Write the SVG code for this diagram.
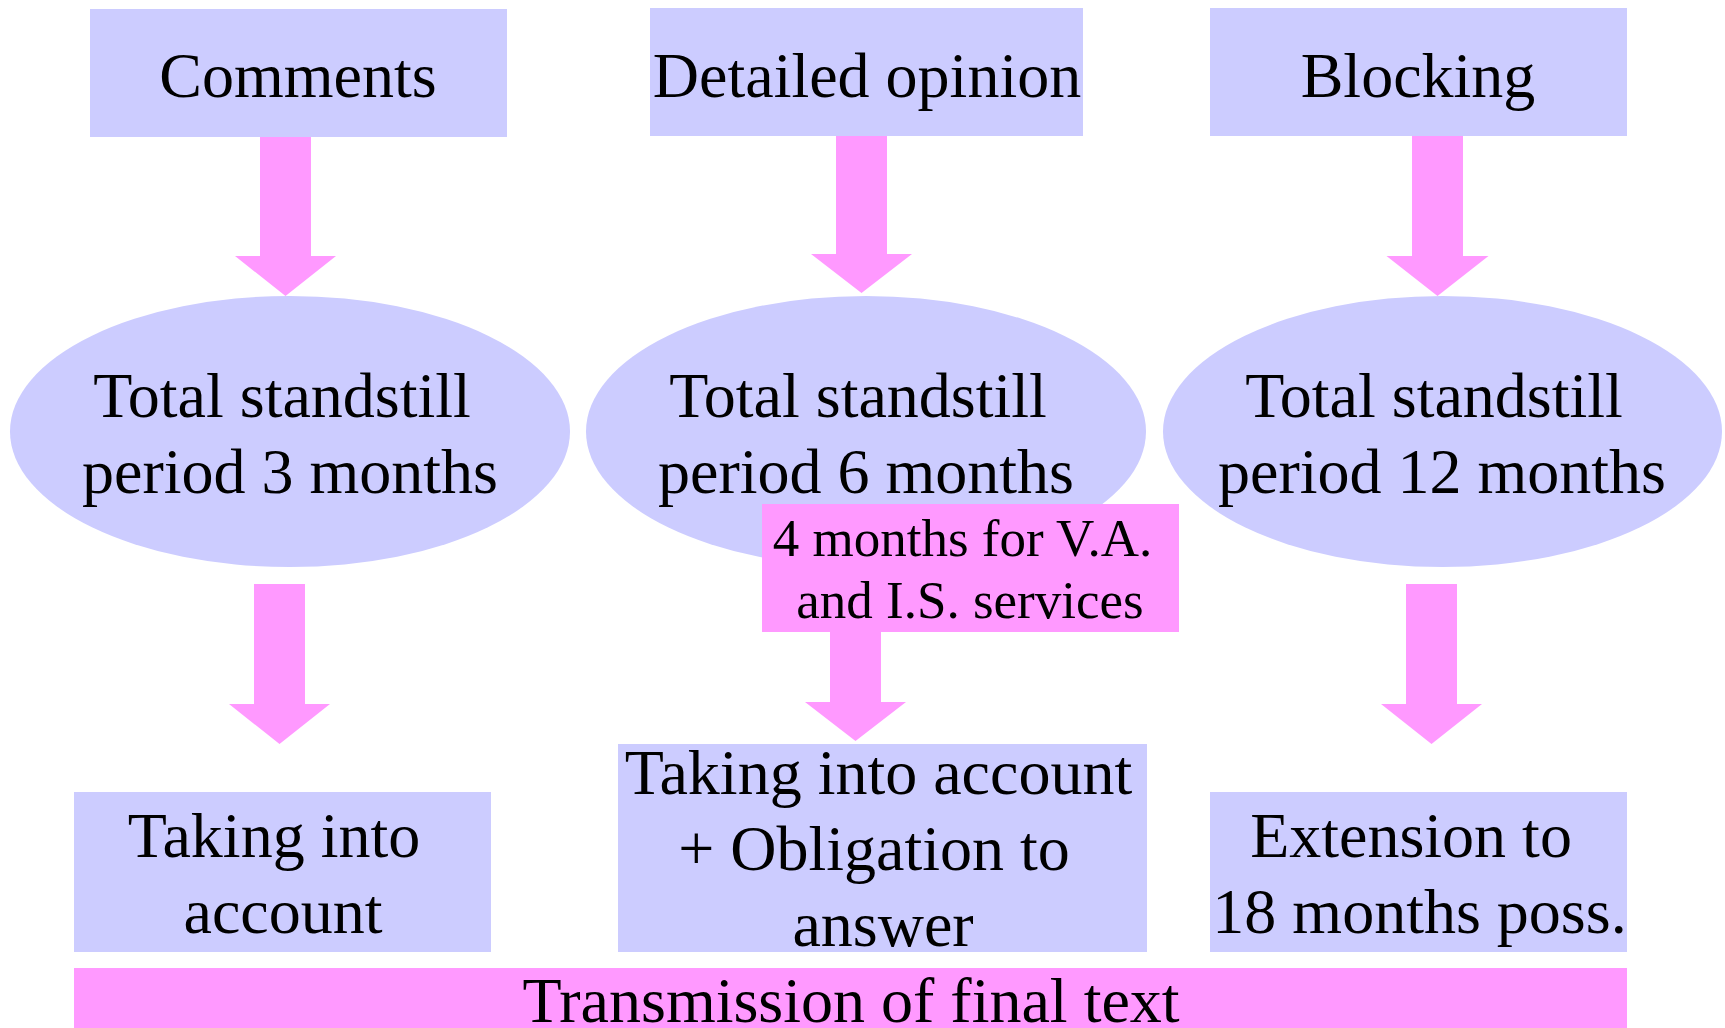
<svg xmlns="http://www.w3.org/2000/svg" width="1725" height="1028" viewBox="0 0 1725 1028">
<style>
.lav{fill:#CCCCFF}
.pink{fill:#FF99FF}
text{font-family:"Liberation Serif","Times New Roman",serif;font-size:64px;fill:#000;text-anchor:middle}
.sm{font-size:53px}
</style>
<rect width="1725" height="1028" fill="#FFFFFF"/>
<g id="connectors" class="pink">
<polygon points="260,137 311,137 311,256 336,256 285.5,296 235,256 260,256"/>
<polygon points="836,136 887,136 887,254 912,254 861.5,293 811,254 836,254"/>
<polygon points="1412,136 1463,136 1463,256 1488.5,256 1437.5,296 1386.5,256 1412,256"/>
<polygon points="254,584 305,584 305,704 330,704 279.5,744 229,704 254,704"/>
<polygon points="830,632 881,632 881,702 906,702 855.5,741 805,702 830,702"/>
<polygon points="1406,584 1457,584 1457,704 1482,704 1431.5,744 1381,704 1406,704"/>
</g>
<g id="comments">
<rect class="lav" x="90" y="9" width="417" height="128"/>
<text x="298" y="97">Comments</text>
</g>
<g id="detailed-opinion">
<rect class="lav" x="650" y="8" width="433" height="128"/>
<text x="867" y="97">Detailed opinion</text>
</g>
<g id="blocking">
<rect class="lav" x="1210" y="8" width="417" height="128"/>
<text x="1418" y="97">Blocking</text>
</g>
<g id="standstill-3">
<ellipse class="lav" cx="290" cy="431.5" rx="280" ry="135.5"/>
<text x="282" y="417">Total standstill</text>
<text x="290" y="493">period 3 months</text>
</g>
<g id="standstill-6">
<ellipse class="lav" cx="866" cy="431.5" rx="280" ry="135.5"/>
<text x="858" y="417">Total standstill</text>
<text x="866" y="493">period 6 months</text>
</g>
<g id="standstill-12">
<ellipse class="lav" cx="1442.5" cy="431.5" rx="279.5" ry="135.5"/>
<text x="1434" y="417">Total standstill</text>
<text x="1442" y="493">period 12 months</text>
</g>
<g id="va-is-note">
<rect class="pink" x="762" y="504" width="417" height="128"/>
<text class="sm" x="962.5" y="556">4 months for V.A.</text>
<text class="sm" x="970" y="618">and I.S. services</text>
</g>
<g id="taking-into-account">
<rect class="lav" x="74" y="792" width="417" height="160"/>
<text x="274" y="857">Taking into</text>
<text x="283" y="933">account</text>
</g>
<g id="taking-obligation">
<rect class="lav" x="618" y="744" width="529" height="208"/>
<text x="878.5" y="794">Taking into account</text>
<text x="874" y="870">+ Obligation to</text>
<text x="883" y="946">answer</text>
</g>
<g id="extension">
<rect class="lav" x="1210" y="792" width="417" height="160"/>
<text x="1411" y="857">Extension to</text>
<text x="1419.5" y="933">18 months poss.</text>
</g>
<g id="transmission">
<rect class="pink" x="74" y="968" width="1553" height="60"/>
<text x="851" y="1022">Transmission of final text</text>
</g>
</svg>
